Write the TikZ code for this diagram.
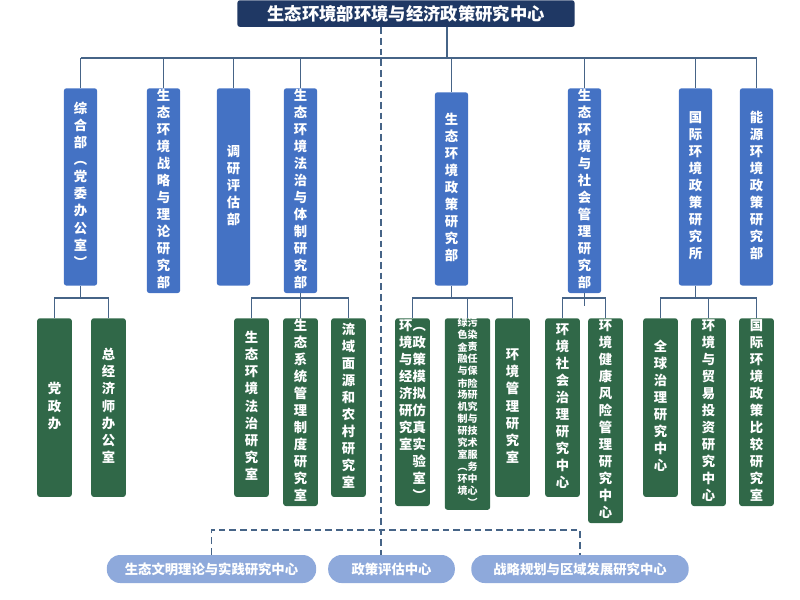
\documentclass[tikz,border=0pt]{standalone}
\usepackage{fontspec}
\newfontfamily\cjk{Noto Sans CJK SC}
\usetikzlibrary{positioning}
\definecolor{mynavy}{RGB}{31,56,100}
\definecolor{myblue}{RGB}{68,114,196}
\definecolor{mygreen}{RGB}{48,104,72}
\definecolor{mypill}{RGB}{142,169,219}
\definecolor{myline}{RGB}{70,100,135}
% vertical text, one character per row
\def\vfirst#1{#1\vrest}
\def\vrest#1{\ifx\relax#1\else\\#1\expandafter\vrest\fi}
\newcommand\vcol[1]{\begin{tabular}[t]{@{}c@{}}\vfirst#1\relax\end{tabular}}
\tikzset{
  head/.style={rectangle, rounded corners=2, fill=mynavy, text=white, anchor=north,
    minimum width=253pt, minimum height=20pt, inner sep=0,
    font=\cjk\bfseries\fontsize{13}{15}\selectfont},
  dept/.style={rectangle, rounded corners=2, fill=myblue, text=white, anchor=north,
    minimum width=25pt, minimum height=148pt, inner sep=0,
    font=\cjk\bfseries\fontsize{10}{12.8}\selectfont},
  office/.style={rectangle, rounded corners=2, fill=mygreen, text=white, anchor=north,
    minimum width=26pt, minimum height=134pt, inner sep=0,
    font=\cjk\bfseries\fontsize{10}{12.8}\selectfont},
  pill/.style={rectangle, rounded corners=10pt, fill=mypill, text=white,
    minimum height=21pt, inner sep=0,
    font=\cjk\bfseries\fontsize{10}{12}\selectfont},
  conn/.style={draw=myline, line width=0.8pt},
  dashconn/.style={draw=myline, line width=0.9pt, dash pattern=on 5pt off 3pt}
}
\begin{document}
\begin{tikzpicture}[x=0.75pt, y=-0.75pt]
\useasboundingbox (0,0) rectangle (800,600);

\node [head] (top) at (406,0) {生态环境部环境与经济政策研究中心};

% departments
\node [dept] (b1) at (80.5,88) {\vcol{综合部︵党委办公室︶}};
\node [dept] (b2) at (163.5,88) {\vcol{生态环境战略与理论研究部}};
\node [dept] (b3) at (233.5,88) {\vcol{调研评估部}};
\node [dept] (b4) at (300.5,88) {\vcol{生态环境法治与体制研究部}};
\node [dept, minimum height=145pt] (b5) at (451.5,92) {\vcol{生态环境政策研究部}};
\node [dept] (b6) at (584.5,88) {\vcol{生态环境与社会管理研究部}};
\node [dept] (b7) at (695.5,88) {\vcol{国际环境政策研究所}};
\node [dept] (b8) at (756.5,88) {\vcol{能源环境政策研究部}};

% offices
\node [office] (g11) at (54.5,318) {\vcol{党政办}};
\node [office] (g12) at (108.5,318) {\vcol{总经济师办公室}};
\node [office] (g41) at (251.5,318) {\vcol{生态环境法治研究室}};
\node [office] (g42) at (300.5,318) {\vcol{生态系统管理制度研究室}};
\node [office] (g43) at (348.5,318) {\vcol{流域面源和农村研究室}};
\node [office] (g51) at (412.5,318) {\vcol{环境与经济研究室}\vcol{︵政策模拟仿真实验室︶}};
\node [office, minimum width=34pt, font=\cjk\bfseries\fontsize{7.5}{8.7}\selectfont]
  (g52) at (467.5,318) {\vcol{绿色金融与市场机制研究室︵环境}\vcol{污染责任保险研究与技术服务中心︶}};
\node [office] (g53) at (512.5,318) {\vcol{环境管理研究室}};
\node [office] (g61) at (562.5,318) {\vcol{环境社会治理研究中心}};
\node [office] (g62) at (605.5,318) {\vcol{环境健康风险管理研究中心}};
\node [office] (g71) at (660.5,318) {\vcol{全球治理研究中心}};
\node [office] (g72) at (708.5,318) {\vcol{环境与贸易投资研究中心}};
\node [office] (g73) at (756.5,318) {\vcol{国际环境政策比较研究室}};

% centres
\node [pill, minimum width=157pt] (p1) at (211.5,569) {生态文明理论与实践研究中心};
\node [pill, minimum width=95pt] (p2) at (391.5,569) {政策评估中心};
\node [pill, minimum width=163pt] (p3) at (580,569) {战略规划与区域发展研究中心};

% solid connectors
\coordinate (bus) at (447,58);
\draw [conn] (top.south -| bus) -- (bus);
\draw [conn] (b1.north |- bus) -- (b8.north |- bus);
\foreach \b in {b1,b2,b3,b4,b5,b6,b7,b8}
  \draw [conn] (\b.north |- bus) -- (\b.north);
\foreach \p/\a/\z in {b1/g11/g12, b4/g41/g43, b5/g51/g53, b6/g61/g62, b7/g71/g73} {
  \draw [conn] (\p.south) -- ++(0,13);
  \draw [conn] (\a.north) -- ++(0,-20) -| (\z.north);
}
\foreach \m in {g42,g52,g72}
  \draw [conn] (\m.north) -- ++(0,-20);

% dashed connectors
\coordinate (dmid) at (381,530);
\draw [dashconn] (top.south -| dmid) -- (p2.north -| dmid);
\draw [dashconn] (p1.north) -- (p1.north |- dmid) -- (p3.north |- dmid) -- (p3.north);
\end{tikzpicture}
\end{document}
